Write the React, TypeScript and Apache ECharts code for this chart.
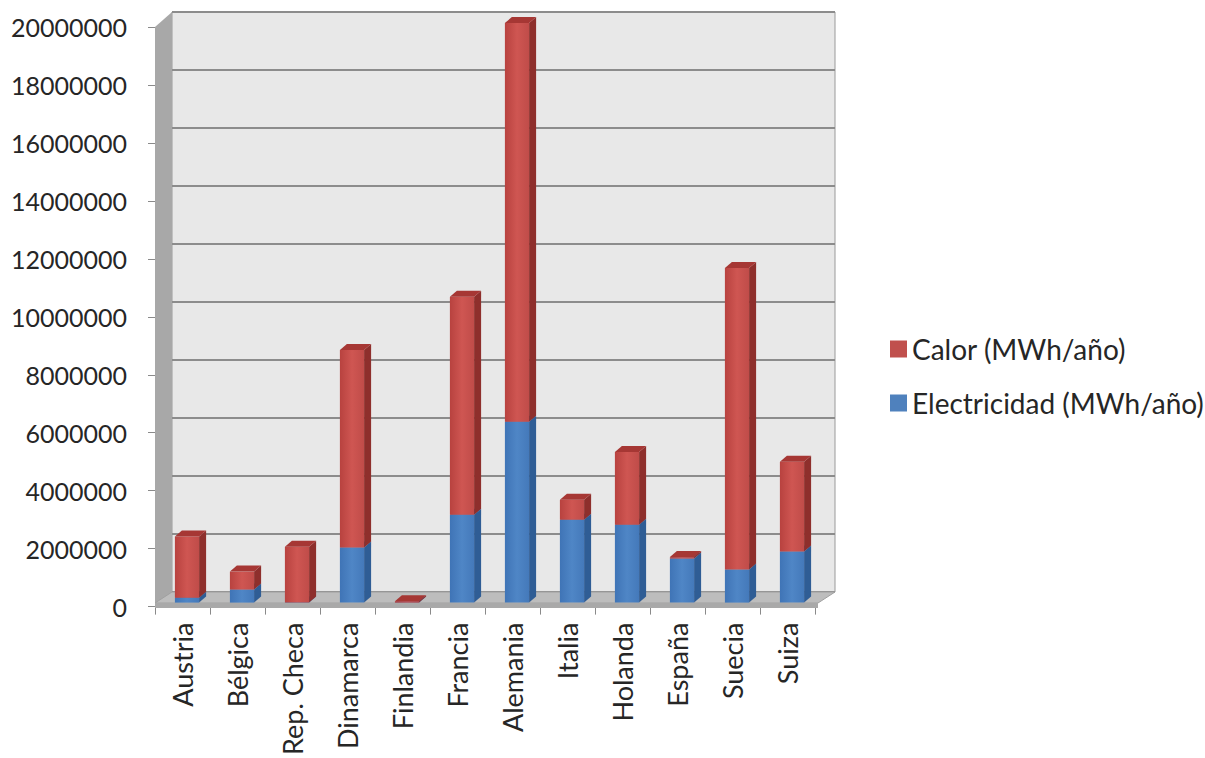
import React, { useEffect, useRef } from "react";
import * as echarts from "echarts";

const categories = ["Austria", "Bélgica", "Rep. Checa", "Dinamarca", "Finlandia", "Francia", "Alemania", "Italia", "Holanda", "España", "Suecia", "Suiza"];
const electricidad = [170000, 450000, 0, 1900000, 0, 3030000, 6240000, 2860000, 2690000, 1520000, 1140000, 1760000];
const calor = [2110000, 620000, 1930000, 6820000, 50000, 7520000, 13760000, 690000, 2510000, 50000, 10410000, 3100000];
const yTicks = { min: 0, max: 20000000, interval: 2000000 };
const seriesNames = ["Calor (MWh/año)", "Electricidad (MWh/año)"];

const FONT = "Lato, 'Open Sans', sans-serif";
const TEXT = "#262626";

function makeRender(colors: { front: any; side: string; top: string }) {
  return (params: any, api: any) => {
    const i = api.value(0);
    const base = api.value(1);
    const top = api.value(2);
    const p0 = api.coord([i, base]);
    const p1 = api.coord([i, top]);
    const band = api.size([1, 0])[0];
    const w = band * 0.44;
    const shiftX = 4.5;
    const shiftY = -4;
    const dX = 7;
    const dY = -6;
    const x = p0[0] + shiftX - w / 2;
    const yB = p0[1] + shiftY;
    const yT = p1[1] + shiftY;
    return {
      type: "group",
      children: [
        {
          type: "rect",
          shape: { x: x, y: yT, width: w, height: Math.max(yB - yT, 0.01) },
          style: { fill: colors.front },
        },
        {
          type: "polygon",
          shape: {
            points: [
              [x + w, yT],
              [x + w + dX, yT + dY],
              [x + w + dX, yB + dY],
              [x + w, yB],
            ],
          },
          style: { fill: colors.side },
        },
        {
          type: "polygon",
          shape: {
            points: [
              [x, yT],
              [x + dX, yT + dY],
              [x + w + dX, yT + dY],
              [x + w, yT],
            ],
          },
          style: { fill: colors.top },
        },
      ],
    };
  };
}

export default function App() {
  const ref = useRef<HTMLDivElement>(null);
  useEffect(() => {
    if (!ref.current) return;
    const chart = echarts.init(ref.current, null, { renderer: "svg" });
    const elecData = categories.map((_, i) => [i, 0, electricidad[i]]);
    const calorData = categories.map((_, i) => [i, electricidad[i], electricidad[i] + calor[i]]);

    const redFront = new echarts.graphic.LinearGradient(0, 0, 1, 0, [
      { offset: 0, color: "#b8423f" },
      { offset: 0.5, color: "#cf5652" },
      { offset: 1, color: "#c04c49" },
    ]);
    const blueFront = new echarts.graphic.LinearGradient(0, 0, 1, 0, [
      { offset: 0, color: "#3f74b6" },
      { offset: 0.5, color: "#4f86c6" },
      { offset: 1, color: "#4479ba" },
    ]);

    const option: any = {
      animation: false,
      backgroundColor: "#ffffff",
      textStyle: { fontFamily: FONT },
      grid: [
        { left: 155, top: 27, width: 660, height: 580, containLabel: false },
        { left: 172, top: 12, width: 663, height: 580, show: true, backgroundColor: "#e8e8e8", borderColor: "#9a9a9a", borderWidth: 1 },
      ],
      xAxis: [
        {
          type: "category",
          gridIndex: 0,
          data: categories,
          boundaryGap: true,
          axisLine: { show: true, lineStyle: { color: "#9a9a9a", width: 1 } },
          axisTick: { show: true, length: 8, alignWithLabel: false, lineStyle: { color: "#8a8a8a" } },
          axisLabel: { rotate: 90, margin: 16, fontSize: 27, color: TEXT, fontFamily: FONT, interval: 0, padding: [0, 0, 8, 0] },
          splitLine: { show: false },
        },
        {
          type: "category",
          gridIndex: 1,
          data: categories,
          show: false,
        },
      ],
      yAxis: [
        {
          type: "value",
          gridIndex: 0,
          min: yTicks.min,
          max: yTicks.max,
          interval: yTicks.interval,
          axisLine: { show: false },
          axisTick: { show: true, length: 7, lineStyle: { color: "#8a8a8a" } },
          axisLabel: { margin: 28, fontSize: 25, color: TEXT, fontFamily: FONT, formatter: (v: number) => String(v) },
          splitLine: { show: false },
        },
        {
          type: "value",
          gridIndex: 1,
          min: yTicks.min,
          max: yTicks.max,
          interval: yTicks.interval,
          axisLine: { show: false },
          axisTick: { show: false },
          axisLabel: { show: false },
          splitLine: { show: true, lineStyle: { color: "#8c8c8c", width: 2 } },
        },
      ],
      legend: {
        orient: "vertical",
        left: 890,
        top: 334,
        padding: 0,
        itemGap: 24,
        itemWidth: 17,
        itemHeight: 17,
        icon: "rect",
        data: seriesNames,
        textStyle: { fontSize: 28, color: TEXT, fontFamily: FONT, lineHeight: 30 },
      },
      graphic: [
        {
          type: "polygon",
          z: 1,
          shape: { points: [[155, 27], [172, 12], [172, 592], [155, 607]] },
          style: { fill: "#a8a8a8" },
        },
        {
          type: "polygon",
          z: 1,
          shape: { points: [[155, 603], [172, 592], [835, 592], [818, 603]] },
          style: { fill: "#bdbdbd", stroke: "#a0a0a0", lineWidth: 1 },
        },
        {
          type: "rect",
          z: 1,
          shape: { x: 155, y: 603, width: 663, height: 5 },
          style: { fill: "#a9a9a9" },
        },
      ],
      series: [
        {
          name: seriesNames[1],
          type: "custom",
          xAxisIndex: 0,
          yAxisIndex: 0,
          z: 5,
          itemStyle: { color: "#4f81bd" },
          encode: { x: 0, y: [1, 2] },
          renderItem: makeRender({ front: blueFront, side: "#2f5d95", top: "#3b6aa6" }),
          data: elecData,
        },
        {
          name: seriesNames[0],
          type: "custom",
          xAxisIndex: 0,
          yAxisIndex: 0,
          z: 6,
          itemStyle: { color: "#c0504d" },
          encode: { x: 0, y: [1, 2] },
          renderItem: makeRender({ front: redFront, side: "#8e2f2c", top: "#a63734" }),
          data: calorData,
        },
      ],
    };
    chart.setOption(option);
    return () => chart.dispose();
  }, []);
  return (
    <div
      ref={ref}
      style={{ position: "fixed", left: 0, top: 0, width: 1205, height: 758, background: "#fff" }}
    />
  );
}
